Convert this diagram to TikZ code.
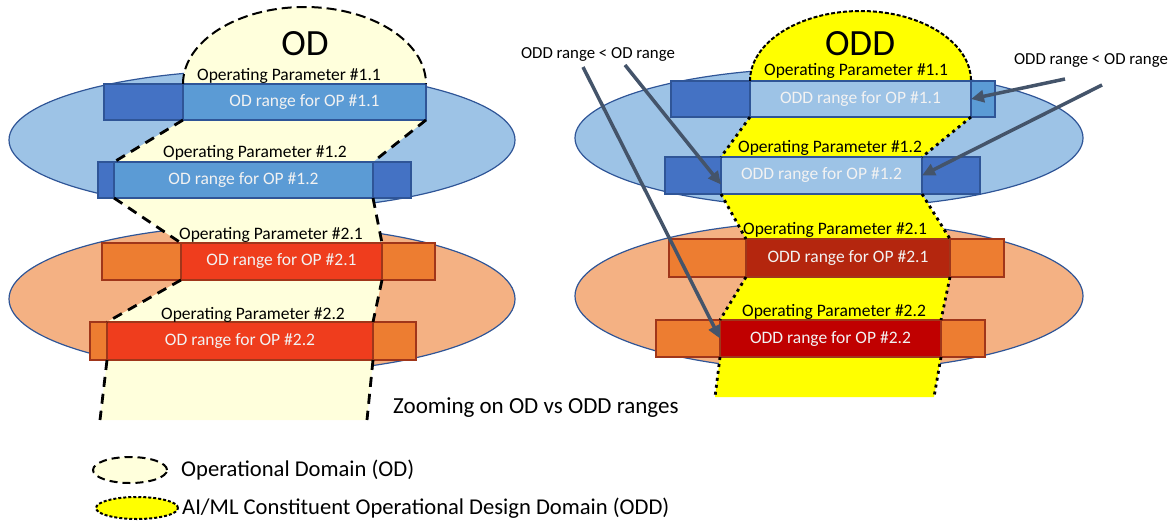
\documentclass[tikz,border=0pt]{standalone}
\usepackage{fontspec}
\setmainfont{Carlito}
\usepackage{tikz}
\usetikzlibrary{arrows.meta, backgrounds, positioning, shapes.geometric}
\definecolor{ellblue}{HTML}{9DC3E6}
\definecolor{ellorange}{HTML}{F4B183}
\definecolor{ellline}{HTML}{2F5597}
\definecolor{opblue}{HTML}{4472C4}
\definecolor{midblue}{HTML}{5B9BD5}
\definecolor{oporange}{HTML}{ED7D31}
\definecolor{orangeline}{HTML}{A0361A}
\definecolor{odred}{HTML}{EF3D1D}
\definecolor{oddred}{HTML}{B4260E}
\definecolor{odddark}{HTML}{C00000}
\definecolor{odcream}{HTML}{FFFFDC}
\definecolor{oddyellow}{HTML}{FFFF00}
\definecolor{arrowgray}{HTML}{44546A}

\tikzset{
  opbox/.style={rectangle, draw, line width=1.3pt, anchor=north west,
    inner sep=0pt, outer sep=0pt},
  bluebox/.style={opbox, fill=opblue, draw=ellline},
  orangebox/.style={opbox, fill=oporange, draw=orangeline},
  rangetext/.style={text=white!95!black, font=\fontsize{17.5}{20}\selectfont},
  oplabel/.style={font=\fontsize{17.5}{20}\selectfont, inner sep=0pt},
  odline/.style={line width=2.8pt, dash pattern=on 10pt off 7pt},
  oddline/.style={line width=2.8pt, dash pattern=on 3pt off 4pt},
  pointer/.style={draw=arrowgray, line width=3.5pt,
    -{Triangle[length=13pt,width=12pt]}},
  notetext/.style={font=\fontsize{16.8}{19}\selectfont, inner sep=0pt},
  title/.style={font=\fontsize{37}{40}\selectfont, inner sep=0pt}
}

\begin{document}
\begin{tikzpicture}[x=1pt, y=-1pt]
  \useasboundingbox (0,0) rectangle (1174,522);

  % ---------------- OD (left) ----------------
  \node[bluebox, minimum width=322pt, minimum height=36pt] (op11) at (104,84) {};
  \node[bluebox, fill=midblue, rangetext, minimum width=243pt, minimum height=36pt] (od11) at (183,84) {OD range for OP \#1.1};
  \node[bluebox, minimum width=313pt, minimum height=36pt] (op12) at (98,162) {};
  \node[bluebox, fill=midblue, rangetext, minimum width=259pt, minimum height=36pt] (od12) at (114,162) {OD range for OP \#1.2};
  \node[orangebox, minimum width=333pt, minimum height=37pt] (op21) at (102,243) {};
  \node[orangebox, fill=odred, rangetext, minimum width=201pt, minimum height=37pt] (od21) at (181,243) {OD range for OP \#2.1};
  \node[orangebox, minimum width=326pt, minimum height=38pt] (op22) at (90,322) {};
  \node[orangebox, fill=odred, rangetext, minimum width=266pt, minimum height=38pt] (od22) at (107,322) {OD range for OP \#2.2};
  \coordinate (odbl) at (100,420);
  \coordinate (odbr) at (367,420);

  % ---------------- ODD (right) ----------------
  \node[bluebox, minimum width=324pt, minimum height=36pt] (op11r) at (671,81) {};
  \node[bluebox, fill=midblue, minimum width=24pt, minimum height=36pt] (op11x) at (971,81) {};
  \node[bluebox, fill=ellblue, rangetext, minimum width=221pt, minimum height=36pt] (odd11) at (750,81) {ODD range for OP \#1.1};
  \node[bluebox, minimum width=315pt, minimum height=37pt] (op12r) at (665,157) {};
  \node[bluebox, fill=ellblue, rangetext, minimum width=201pt, minimum height=37pt] (odd12) at (721,157) {ODD range for OP \#1.2};
  \node[orangebox, minimum width=335pt, minimum height=38pt] (op21r) at (669,239) {};
  \node[orangebox, fill=oddred, rangetext, minimum width=204pt, minimum height=38pt] (odd21) at (746,239) {ODD range for OP \#2.1};
  \node[orangebox, minimum width=329pt, minimum height=37pt] (op22r) at (656,320) {};
  \node[orangebox, fill=odddark, rangetext, minimum width=221pt, minimum height=37pt] (odd22) at (720,320) {ODD range for OP \#2.2};
  \coordinate (oddbl) at (715,397);
  \coordinate (oddbr) at (934,397);

  % ellipses and domains behind the bars
  \begin{scope}[on background layer]
    \draw[line width=1.2pt, draw=ellline, fill=ellblue] (262,140) ellipse [x radius=253pt, y radius=70pt];
    \draw[line width=1.2pt, draw=ellline, fill=ellorange] (262,299) ellipse [x radius=253pt, y radius=74pt];
    \draw[line width=1.2pt, draw=ellline, fill=ellblue] (829,138) ellipse [x radius=254pt, y radius=70pt];
    \draw[line width=1.2pt, draw=ellline, fill=ellorange] (829,296) ellipse [x radius=254pt, y radius=75pt];

    \fill[odcream] (od11.north west) arc[start angle=180, end angle=0, x radius=121.5pt, y radius=77pt]
      -- (od11.south east) -- (od12.north east) -- (od12.south east) -- (od21.north east)
      -- (od21.south east) -- (od22.north east) -- (od22.south east) -- (odbr) -- (odbl)
      -- (od22.south west) -- (od22.north west) -- (od21.south west) -- (od21.north west)
      -- (od12.south west) -- (od12.north west) -- (od11.south west) -- cycle;
    \fill[oddyellow] (odd11.north west) arc[start angle=180, end angle=0, x radius=110.5pt, y radius=70pt]
      -- (odd11.south east) -- (odd12.north east) -- (odd12.south east) -- (odd21.north east)
      -- (odd21.south east) -- (odd22.north east) -- (odd22.south east) -- (oddbr) -- (oddbl)
      -- (odd22.south west) -- (odd22.north west) -- (odd21.south west) -- (odd21.north west)
      -- (odd12.south west) -- (odd12.north west) -- (odd11.south west) -- cycle;
  \end{scope}

  % domain borders
  \draw[line width=2pt, dash pattern=on 10pt off 5pt] (od11.north west) arc[start angle=180, end angle=0, x radius=121.5pt, y radius=77pt];
  \draw[odline] (od11.south west) -- (od12.north west);
  \draw[odline] (od12.south west) -- (od21.north west);
  \draw[odline] (od21.south west) -- (od22.north west);
  \draw[odline] (od22.south west) -- (odbl);
  \draw[odline] (od11.south east) -- (od12.north east);
  \draw[odline] (od12.south east) -- (od21.north east);
  \draw[odline] (od21.south east) -- (od22.north east);
  \draw[odline] (od22.south east) -- (odbr);

  \draw[line width=2pt, dash pattern=on 4pt off 2pt] (odd11.north west) arc[start angle=180, end angle=0, x radius=110.5pt, y radius=70pt];
  \draw[oddline] (odd11.south west) -- (odd12.north west);
  \draw[oddline] (odd12.south west) -- (odd21.north west);
  \draw[oddline] (odd21.south west) -- (odd22.north west);
  \draw[oddline] (odd22.south west) -- (oddbl);
  \draw[oddline] (odd11.south east) -- (odd12.north east);
  \draw[oddline] (odd12.south east) -- (odd21.north east);
  \draw[oddline] (odd21.south east) -- (odd22.north east);
  \draw[oddline] (odd22.south east) -- (oddbr);

  % titles and parameter names
  \node[title] (odtitle) at (305,44) {OD};
  \node[title] (oddtitle) at (860,44) {ODD};

  \node[oplabel] (p11) at (289,76) {Operating Parameter \#1.1};
  \node[oplabel] (p12) at (255,153) {Operating Parameter \#1.2};
  \node[oplabel] (p21) at (271,235) {Operating Parameter \#2.1};
  \node[oplabel] (p22) at (253,315) {Operating Parameter \#2.2};
  \node[oplabel] (q11) at (856,71) {Operating Parameter \#1.1};
  \node[oplabel] (q12) at (830,148) {Operating Parameter \#1.2};
  \node[oplabel] (q21) at (835,230) {Operating Parameter \#2.1};
  \node[oplabel] (q22) at (834,312) {Operating Parameter \#2.2};

  % pointers
  \node[notetext] (noteleft) at (598,54) {ODD range < OD range};
  \node[notetext] (noteright) at (1091,60) {ODD range < OD range};
  \coordinate (pa) at (583,67);
  \coordinate (pb) at (625,65);
  \coordinate (pc) at (1065,79);
  \coordinate (pd) at (1102,85);
  \draw[pointer] (pa) -- (odd22.west);
  \draw[pointer] (pb) -- ([yshift=-9pt]odd12.west);
  \draw[pointer] (pc) -- (odd11.east);
  \draw[pointer] (pd) -- (odd12.east);

  \node[anchor=west, font=\fontsize{23}{27}\selectfont, inner sep=0pt] (zoomnote) at (393,408) {Zooming on OD vs ODD ranges};

  % legend
  \node[ellipse, draw, fill=odcream, line width=2pt, dash pattern=on 8pt off 5pt,
    minimum width=74pt, minimum height=26pt, inner sep=0pt] (legod) at (130,470) {};
  \node[ellipse, draw, fill=oddyellow, line width=2pt, dash pattern=on 3pt off 2pt,
    minimum width=82pt, minimum height=22pt, inner sep=0pt] (legodd) at (137,508) {};
  \node[right=13pt of legod, font=\fontsize{22.6}{26}\selectfont, inner sep=0pt] (legodtext) {Operational Domain (OD)};
  \node[right=3pt of legodd, font=\fontsize{22.6}{26}\selectfont, inner sep=0pt] (legoddtext) {AI/ML Constituent Operational Design Domain (ODD)};
\end{tikzpicture}
\end{document}
